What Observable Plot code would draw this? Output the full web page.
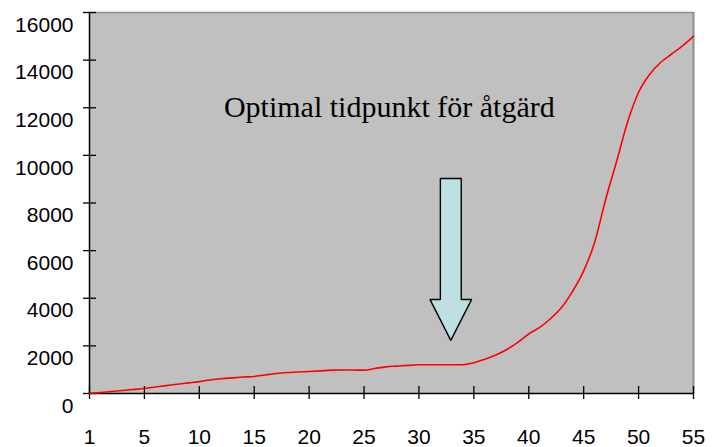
<!DOCTYPE html>
<html>
<head>
<meta charset="utf-8">
<script src="https://cdn.jsdelivr.net/npm/d3@7"></script>
<script src="https://cdn.jsdelivr.net/npm/@observablehq/plot@0.6"></script>
<style>
  html, body { margin: 0; padding: 0; background: #fff; }
  #chart svg { display: block; }
  #chart svg text.serif-note { font-family: "Liberation Serif", "Times New Roman", serif !important; }
</style>
</head>
<body>
<div id="chart"></div>
<script>
// Data
const periods = d3.range(0, 56);
const values = [
  0, 40, 85, 125, 170, 210, 270, 330, 390, 445,
  500, 570, 620, 655, 690, 714, 780, 840, 880, 900,
  924, 950, 980, 990, 985, 980, 1050, 1120, 1150, 1180,
  1205, 1205, 1205, 1205, 1210, 1290, 1440, 1620, 1850, 2150,
  2500, 2780, 3150, 3620, 4300, 5150, 6350, 8150, 9750, 11400,
  12650, 13400, 13900, 14250, 14600, 15000
];
const xTickValues = [0, 5, 10, 15, 20, 25, 30, 35, 40, 45, 50, 55];
const xTickLabels = ["1", "5", "10", "15", "20", "25", "30", "35", "40", "45", "50", "55"];
const yTickValues = [0, 2000, 4000, 6000, 8000, 10000, 12000, 14000, 16000];

const annotationText = ["Optimal tidpunkt för åtgärd"];
const annotationX = [27.3];
const annotationY = [12000];

// Arrow: center x, top value, head-base value, tip value, shaft half-width, head half-width (data units)
const arrowCenter = 32.9;
const arrowTop = 9030;
const arrowHeadBase = 3950;
const arrowTip = 2230;
const arrowShaftHalf = 0.95;
const arrowHeadHalf = 1.9;

const series = periods.map((p, i) => ({x: p, y: values[i]}));
const arrowPoly = [
  [arrowCenter - arrowShaftHalf, arrowTop],
  [arrowCenter + arrowShaftHalf, arrowTop],
  [arrowCenter + arrowShaftHalf, arrowHeadBase],
  [arrowCenter + arrowHeadHalf, arrowHeadBase],
  [arrowCenter, arrowTip],
  [arrowCenter - arrowHeadHalf, arrowHeadBase],
  [arrowCenter - arrowShaftHalf, arrowHeadBase],
  [arrowCenter - arrowShaftHalf, arrowTop]
].map(([x, y]) => ({x, y}));
const annotations = annotationText.map((t, i) => ({t, x: annotationX[i], y: annotationY[i]}));

const labelFont = "'Liberation Sans', Arial, sans-serif";

const chart = Plot.plot({
  width: 712,
  height: 447,
  marginLeft: 89,
  marginRight: 19,
  marginTop: 12,
  marginBottom: 54,
  style: {fontFamily: labelFont, color: "#000", background: "#fff", overflow: "visible"},
  x: {domain: [0, 55]},
  y: {domain: [0, 16000]},
  marks: [
    Plot.frame({fill: "#c0c0c0", stroke: null}),
    Plot.ruleY([16000], {stroke: "#8c8c8c", strokeWidth: 1.5}),
    Plot.ruleX([55], {stroke: "#8c8c8c", strokeWidth: 2}),
    // y tick marks crossing the axis
    Plot.axisY({ticks: yTickValues, tickSize: 13, dx: 7, tickFormat: () => "", label: null, stroke: "#000", strokeWidth: 1.3, strokeOpacity: 1}),
    // y labels
    Plot.axisY({ticks: yTickValues, tickSize: 0, tickPadding: 16, dy: 12.5, fontSize: 21, tickFormat: d => String(d), label: null, fill: "#000"}),
    // x tick marks crossing the axis
    Plot.axisX({ticks: xTickValues, tickSize: 13, dy: -7, tickFormat: () => "", label: null, stroke: "#000", strokeWidth: 1.3, strokeOpacity: 1}),
    // x labels
    Plot.axisX({ticks: xTickValues, tickSize: 0, tickPadding: 36, fontSize: 21, tickFormat: d => xTickLabels[xTickValues.indexOf(d)], label: null, fill: "#000"}),
    Plot.ruleX([0], {stroke: "#000", strokeWidth: 1.5}),
    Plot.ruleY([0], {stroke: "#000", strokeWidth: 1.5}),
    Plot.line(series, {x: "x", y: "y", stroke: "#ff0000", strokeWidth: 1.6, curve: "monotone-x"}),
    Plot.line(arrowPoly, {x: "x", y: "y", fill: "#bde0e3", stroke: "#000", strokeWidth: 1.4, strokeLinejoin: "miter"}),
    Plot.text(annotations, {x: "x", y: "y", text: "t", fontSize: 30, fontFamily: "Liberation Serif", fill: "#000", textAnchor: "middle"})
  ]
});
document.getElementById("chart").appendChild(chart);
d3.select(chart).selectAll("text").filter(function() { return annotationText.includes(this.textContent); })
  .classed("serif-note", true);
</script>
</body>
</html>
